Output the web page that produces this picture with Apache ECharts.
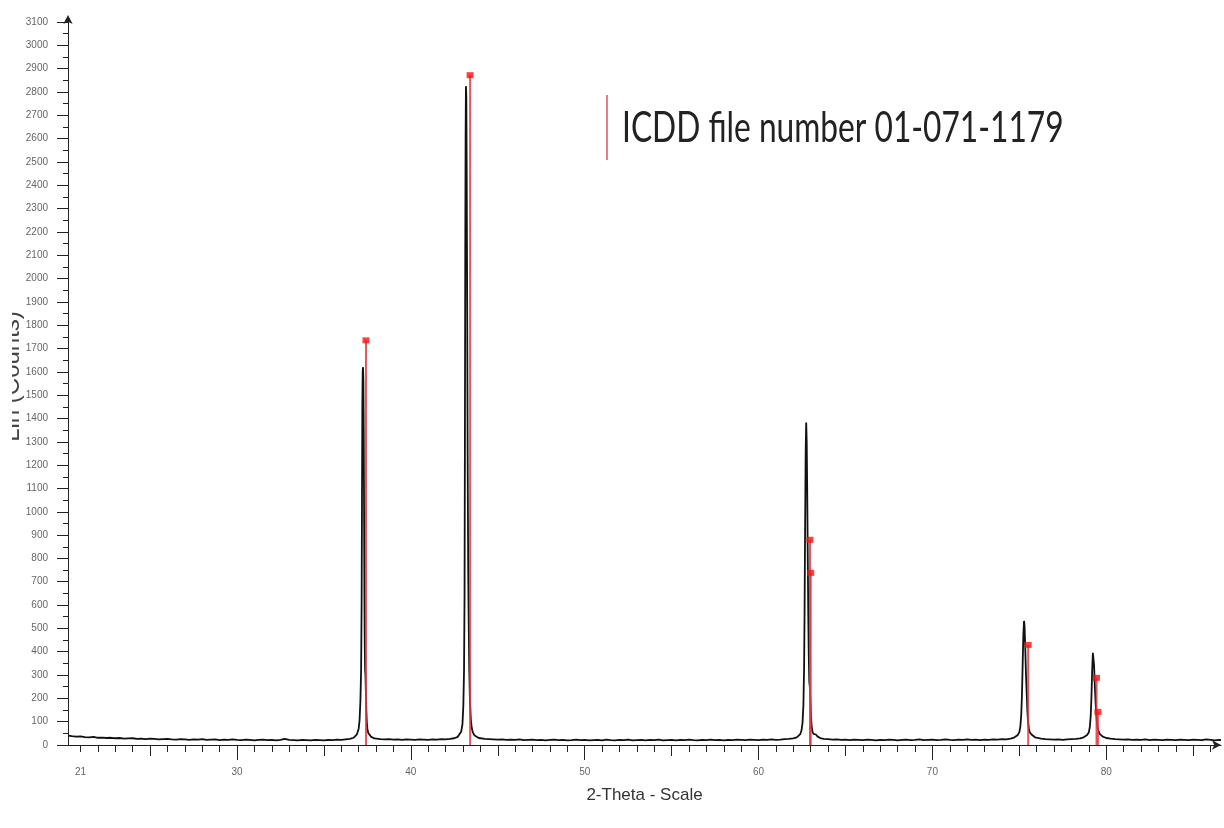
<!DOCTYPE html>
<html><head><meta charset="utf-8">
<script src="https://cdn.jsdelivr.net/npm/echarts@6/dist/echarts.min.js"></script>
<style>html,body{margin:0;padding:0;background:#fff}#c{width:1224px;height:828px}</style>
</head><body><div id="c"></div>
<script>
// ---- measured pattern (2-theta, counts) ----
const thetaValues = [
20.3,20.5,20.75,21,21.25,21.5,21.75,22,22.25,22.5,22.75,23,23.25,23.5,23.75,24,24.25,24.5,24.75,25,25.25,25.5,25.75,26,26.25,26.5,26.75,27,27.25,27.5,27.75,28,28.25,28.5,28.75,29,29.25,29.5,29.75,30,30.25,30.5,30.75,31,31.25,31.5,31.75,32,32.25,32.5,32.75,33,33.25,33.5,33.75,34,34.25,34.5,34.75,35,35.25,35.5,35.75,36,36.25,36.5,
36.6,36.7,36.8,36.9,37.0,37.05,37.1,37.14,37.17,37.19,37.21,37.23,37.25,37.27,37.29,37.31,37.33,37.35,37.37,37.39,37.41,37.44,37.47,37.5,37.55,37.6,37.7,37.8,37.9,38.0,
38.25,38.5,38.75,39,39.25,39.5,39.75,40,40.25,40.5,40.75,41,41.25,41.5,41.75,42,42.25,42.5,
42.6,42.7,42.8,42.9,42.97,43.02,43.06,43.09,43.11,43.13,43.15,43.17,43.19,43.21,43.24,43.27,43.3,43.33,43.36,43.4,43.45,43.5,43.56,43.65,43.75,43.9,44.0,
44.25,44.5,44.75,45,45.25,45.5,45.75,46,46.25,46.5,46.75,47,47.25,47.5,47.75,48,48.25,48.5,48.75,49,49.25,49.5,49.75,50,50.25,50.5,50.75,51,51.25,51.5,51.75,52,52.25,52.5,52.75,53,53.25,53.5,53.75,54,54.25,54.5,54.75,55,55.25,55.5,55.75,56,56.25,56.5,56.75,57,57.25,57.5,57.75,58,58.25,58.5,58.75,59,59.25,59.5,59.75,60,60.25,60.5,60.75,61,61.25,61.5,61.75,62.0,
62.1,62.2,62.3,62.4,62.47,62.53,62.58,62.62,62.65,62.68,62.71,62.74,62.77,62.8,62.83,62.86,62.89,62.92,62.95,62.98,63.02,63.06,63.1,63.15,63.2,63.25,63.3,63.4,63.5,63.6,
63.75,64,64.25,64.5,64.75,65,65.25,65.5,65.75,66,66.25,66.5,66.75,67,67.25,67.5,67.75,68,68.25,68.5,68.75,69,69.25,69.5,69.75,70,70.25,70.5,70.75,71,71.25,71.5,71.75,72,72.25,72.5,72.75,73,73.25,73.5,73.75,74,74.25,74.5,
74.6,74.7,74.8,74.9,75.0,75.06,75.11,75.15,75.19,75.23,75.27,75.3,75.34,75.38,75.42,75.46,75.5,75.55,75.6,75.7,75.8,75.9,76.0,
76.25,76.5,76.75,77,77.25,77.5,77.75,78,78.25,78.5,
78.6,78.7,78.8,78.9,79.0,79.06,79.11,79.15,79.19,79.23,79.26,79.3,79.34,79.38,79.42,79.46,79.5,79.56,79.62,79.7,79.8,79.9,80.0,
80.25,80.5,80.75,81,81.25,81.5,81.75,82,82.25,82.5,82.75,83,83.25,83.5,83.75,84,84.25,84.5,84.75,85,85.25,85.5,85.75,86,86.25,86.5,86.6
];
const countValues = [
40,38,36,37,34,33,35,31,32,30,31,29,30,27,28,29,26,27,25,27,26,24,25,26,24,23,25,24,22,24,23,25,22,23,24,21,23,22,24,22,21,23,22,20,22,23,21,22,20,22,26,22,21,20,22,21,20,22,21,20,22,21,23,22,24,26,
28,31,36,46,70,105,190,320,620,1050,1450,1600,1620,1560,1350,1000,650,420,320,300,240,150,95,70,52,44,36,31,28,26,
25,24,25,23,24,22,24,23,22,24,23,22,24,23,25,24,26,29,
31,35,42,58,90,170,320,650,1300,2100,2600,2825,2780,2500,1900,1200,750,520,330,190,110,75,55,42,35,30,28,
26,25,24,23,24,22,23,22,24,21,22,23,21,22,20,22,23,21,22,20,21,23,21,22,20,21,22,20,23,21,20,22,21,23,20,21,22,20,22,21,23,20,21,22,20,22,21,23,21,20,22,21,23,21,22,20,22,21,23,22,21,23,22,21,23,22,24,22,23,25,26,28,
30,33,38,47,62,95,170,330,600,950,1250,1383,1300,1080,820,560,380,270,250,200,120,75,58,48,52,56,45,36,31,28,
26,25,23,24,22,23,21,23,22,21,23,22,20,22,21,23,22,20,22,23,21,22,24,21,22,23,21,22,24,22,21,23,22,24,22,23,21,23,22,24,23,25,24,27,
29,32,36,42,55,80,130,210,340,470,532,510,420,310,230,150,100,70,55,45,38,33,30,
27,25,24,23,24,22,24,25,26,28,
30,33,37,43,55,80,130,210,320,395,400,340,260,190,140,100,75,58,48,42,36,32,30,
27,25,24,23,24,22,23,22,24,21,23,22,21,23,22,21,23,22,21,23,22,21,24,22,20,22,21
];
// ---- ICDD 01-071-1179 reference lines ----
const refTheta = [37.42, 43.41, 62.96, 63.0, 75.51, 79.44, 79.52];
const refIntensity = [1735, 2872, 880, 738, 429, 288, 142];
// ---- axis tick values / labels ----
const xLabelValues = [21, 30, 40, 50, 60, 70, 80];
const xMajorTicks = [30, 40, 50, 60, 70, 80];
const xMediumTicks = [25, 35, 45, 55, 65, 75, 85];
const xMinorTicks = [21,22,23,24,26,27,28,29,31,32,33,34,36,37,38,39,41,42,43,44,46,47,48,49,51,52,53,54,56,57,58,59,61,62,63,64,66,67,68,69,71,72,73,74,76,77,78,79,81,82,83,84,86];
const xTitle = '2-Theta - Scale';
const yTitle = 'Lin (Counts)';
const legendLabel = 'ICDD file number 01-071-1179';

const patternData = thetaValues.map((t, i) => [t, countValues[i]]);
const refData = refTheta.map((t, i) => [t, refIntensity[i]]);

const axisColor = '#222';
const xMin = 20.28, xMax = 86.6;
const chart = echarts.init(document.getElementById('c'), null, {renderer: 'canvas'});
chart.setOption({
  animation: false,
  backgroundColor: '#fff',
  grid: {left: 68, right: 3, top: 22, bottom: 83, containLabel: false, outerBoundsMode: 'none'},
  xAxis: [
    {
      type: 'value', min: xMin, max: xMax, position: 'bottom',
      name: xTitle, nameLocation: 'middle', nameGap: 42, nameMoveOverlap: false,
      nameTextStyle: {fontSize: 17, color: '#333', fontFamily: 'Liberation Sans'},
      axisLine: {show: true, onZero: false, lineStyle: {color: axisColor, width: 1}, symbol: ['none', 'arrow'], symbolSize: [7, 9]},
      axisTick: {show: true, length: 15, customValues: xMajorTicks, lineStyle: {color: axisColor}},
      axisLabel: {show: true, customValues: xLabelValues, fontSize: 10, color: '#666', margin: 22, fontFamily: 'Liberation Sans', formatter: v => String(v)},
      splitLine: {show: false}
    },
    {
      type: 'value', min: xMin, max: xMax, position: 'bottom',
      axisLine: {show: false, onZero: false},
      axisTick: {show: true, length: 11, customValues: xMediumTicks, lineStyle: {color: axisColor}},
      axisLabel: {show: false}, splitLine: {show: false}
    },
    {
      type: 'value', min: xMin, max: xMax, position: 'bottom',
      axisLine: {show: false, onZero: false},
      axisTick: {show: true, length: 7, customValues: xMinorTicks, lineStyle: {color: axisColor}},
      axisLabel: {show: false}, splitLine: {show: false}
    }
  ],
  yAxis: {
    type: 'value', min: 0, max: 3100, interval: 100,
    name: yTitle, nameLocation: 'middle', nameGap: 44, nameMoveOverlap: false,
    nameTextStyle: {fontSize: 24, color: '#444', fontFamily: 'Liberation Sans', padding: [0, 0, 0, 14]},
    axisLine: {show: true, onZero: false, lineStyle: {color: axisColor, width: 1}, symbol: ['none', 'arrow'], symbolSize: [7, 9], symbolOffset: [0, 7]},
    axisTick: {show: true, length: 11, lineStyle: {color: axisColor}},
    minorTick: {show: true, splitNumber: 2, length: 5, lineStyle: {color: axisColor}},
    axisLabel: {fontSize: 10, color: '#666', margin: 20, fontFamily: 'Liberation Sans', formatter: v => String(v)},
    splitLine: {show: false}, minorSplitLine: {show: false}
  },
  series: [
    {
      type: 'line', name: 'pattern', xAxisIndex: 0, data: patternData,
      showSymbol: false, symbol: 'none', z: 2,
      lineStyle: {color: '#111', width: 1.8}
    },
    {
      type: 'bar', name: legendLabel, xAxisIndex: 0, data: refData,
      barWidth: 2, z: 3,
      itemStyle: {color: 'rgba(228,55,65,0.85)'}
    },
    {
      type: 'scatter', name: legendLabel + ' marks', xAxisIndex: 0, data: refData,
      symbol: 'rect', symbolSize: [7, 6], z: 4,
      itemStyle: {color: '#ff1010'}
    }
  ],
  graphic: [
    {type: 'rect', z: 100, shape: {x: 0, y: 280, width: 12, height: 190}, style: {fill: '#fff'}},
    {type: 'line', z: 100, shape: {x1: 607, y1: 95, x2: 607, y2: 160}, style: {stroke: '#e05060', lineWidth: 1.5}},
    {type: 'text', z: 100, x: 622, y: 128, scaleX: 0.755,
     style: {text: legendLabel, fontSize: 42, fontFamily: 'Lato', fill: '#222', verticalAlign: 'middle', align: 'left'}}
  ]
});
</script></body></html>
